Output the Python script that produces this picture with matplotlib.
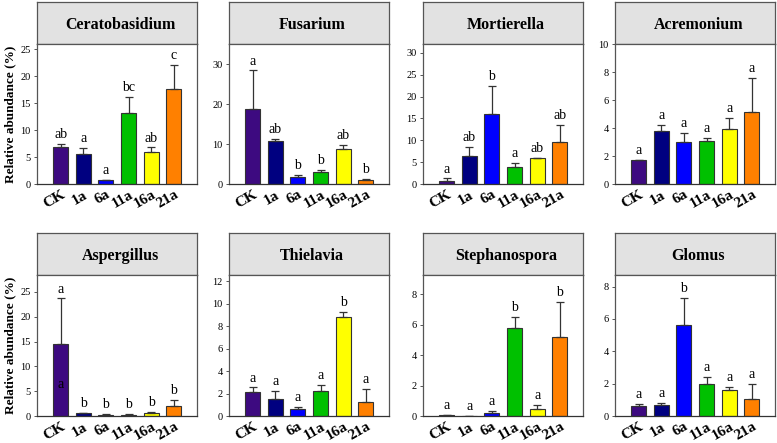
import matplotlib
matplotlib.use('Agg')
import matplotlib.pyplot as plt

# Treatments and colours
groups = ['CK', '1a', '6a', '11a', '16a', '21a']
colors = ['#3d0a80', '#000080', '#0000ff', '#00c000', '#ffff00', '#ff8000']

# Genus names (panel titles)
titles = ['Ceratobasidium', 'Fusarium', 'Mortierella', 'Acremonium',
          'Aspergillus', 'Thielavia', 'Stephanospora', 'Glomus']

# Mean relative abundance (%)
cerato = [6.8, 5.5, 0.7, 13.1, 6.0, 17.7]
fusar = [18.7, 10.8, 1.8, 2.9, 8.8, 1.0]
mortie = [0.8, 6.3, 16.1, 3.8, 5.9, 9.7]
acrem = [1.7, 3.8, 3.0, 3.05, 3.95, 5.15]
asper = [14.5, 0.6, 0.3, 0.3, 0.6, 2.0]
thiel = [2.15, 1.55, 0.65, 2.25, 8.85, 1.25]
steph = [0.05, 0.02, 0.2, 5.8, 0.45, 5.2]
glomus = [0.6, 0.65, 5.65, 1.95, 1.6, 1.05]

# Upper error (standard error)
cerato_err = [0.7, 1.2, 0.1, 3.1, 0.8, 4.4]
fusar_err = [9.7, 0.4, 0.4, 0.7, 1.0, 0.3]
mortie_err = [0.5, 2.1, 6.4, 1.0, 0.1, 3.9]
acrem_err = [0.05, 0.4, 0.65, 0.25, 0.75, 2.45]
asper_err = [9.2, 0.1, 0.2, 0.1, 0.3, 1.2]
thiel_err = [0.4, 0.7, 0.15, 0.5, 0.45, 1.15]
steph_err = [0.03, 0.0, 0.13, 0.7, 0.3, 2.3]
glomus_err = [0.15, 0.15, 1.65, 0.45, 0.2, 0.95]

# Significance letters
cerato_sig = ['ab', 'a', 'a', 'bc', 'ab', 'c']
fusar_sig = ['a', 'ab', 'b', 'b', 'ab', 'b']
mortie_sig = ['a', 'ab', 'b', 'a', 'ab', 'ab']
acrem_sig = ['a', 'a', 'a', 'a', 'a', 'a']
asper_sig = ['a', 'b', 'b', 'b', 'b', 'b']
thiel_sig = ['a', 'a', 'a', 'a', 'b', 'a']
steph_sig = ['a', 'a', 'a', 'b', 'a', 'b']
glomus_sig = ['a', 'a', 'b', 'a', 'a', 'a']

# Axis limits and ticks
ymax = [26, 35, 32, 10, 28.4, 12.55, 9.25, 8.72]
ystep = [5, 10, 5, 2, 5, 2, 2, 2]

means = [cerato, fusar, mortie, acrem, asper, thiel, steph, glomus]
errs = [cerato_err, fusar_err, mortie_err, acrem_err, asper_err, thiel_err, steph_err, glomus_err]
sigs = [cerato_sig, fusar_sig, mortie_sig, acrem_sig, asper_sig, thiel_sig, steph_sig, glomus_sig]

plt.rcParams['font.family'] = 'Liberation Serif'

W, H = 777, 443
fig = plt.figure(figsize=(W / 100, H / 100), dpi=100)

lefts = [37, 229, 423, 615]
pw = 160
rows = [(2, 44, 184), (233, 275, 416)]   # header top, plot top, plot bottom (px)

for k in range(8):
    r, c = divmod(k, 4)
    htop, ptop, pbot = rows[r]
    x0 = lefts[c]

    # grey header box
    hax = fig.add_axes([x0 / W, 1 - ptop / H, pw / W, (ptop - htop) / H])
    hax.set_facecolor('#e2e2e2')
    hax.set_xticks([])
    hax.set_yticks([])
    for s in hax.spines.values():
        s.set_color('#555555')
        s.set_linewidth(0.9)
    hax.text(0.52, 0.45, titles[k], transform=hax.transAxes, ha='center',
             va='center', fontsize=11.5, fontweight='bold')

    # bar plot
    ax = fig.add_axes([x0 / W, 1 - pbot / H, pw / W, (pbot - ptop) / H])
    xs = range(len(groups))
    ax.bar(xs, means[k], width=0.66, color=colors, edgecolor='#333333',
           linewidth=0.8, zorder=2)
    ax.errorbar(xs, means[k], yerr=[[0] * 6, errs[k]], fmt='none',
                ecolor='#333333', elinewidth=0.9, capsize=3, capthick=0.9, zorder=3)
    for i in xs:
        ax.annotate(sigs[k][i], (i, means[k][i] + errs[k][i]), xytext=(0, 2),
                    textcoords='offset points', ha='center', va='bottom', fontsize=10)
    if k == 4:
        # extra letter drawn inside the CK bar in the original
        ax.text(0, 6.3, 'a', ha='center', va='center', fontsize=10)

    ax.set_xlim(-1.04, 6.02)
    ax.set_ylim(0, ymax[k])
    ticks = [t * ystep[k] for t in range(int(ymax[k] // ystep[k]) + 1)]
    ax.set_yticks(ticks)
    ax.tick_params(axis='y', labelsize=7.5, length=2.5, width=0.7, pad=2, color='#555555')
    ax.tick_params(axis='x', length=0, pad=3)
    ax.set_xticks(list(xs))
    ax.set_xticklabels(groups, rotation=30, ha='right', rotation_mode='anchor',
                       fontsize=11, fontweight='bold')
    for s in ax.spines.values():
        s.set_color('#555555')
        s.set_linewidth(0.9)
    ax.spines['bottom'].set_color('#333333')
    if c == 0:
        ax.set_ylabel('Relative abundance (%)', fontsize=9.5, fontweight='bold', labelpad=3)

fig.savefig('out.png', dpi=100)
